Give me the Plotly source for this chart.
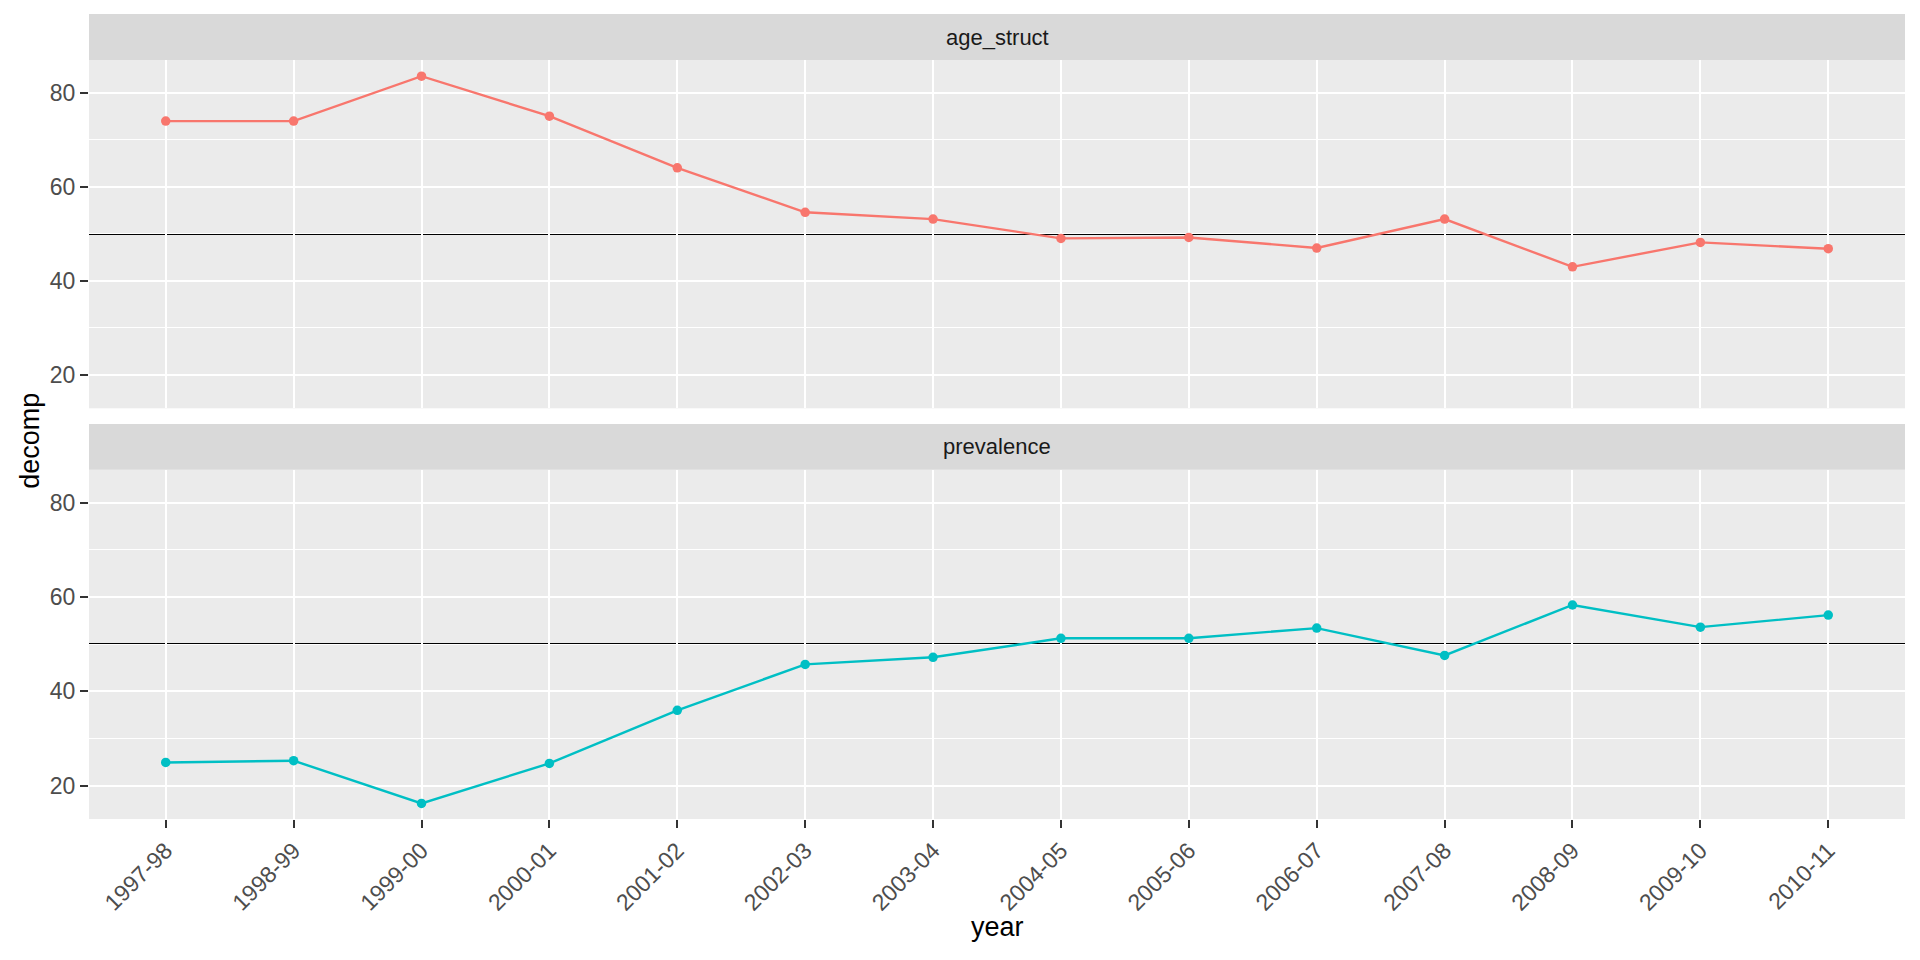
import plotly.graph_objects as go

years = ["1997-98", "1998-99", "1999-00", "2000-01", "2001-02", "2002-03", "2003-04",
         "2004-05", "2005-06", "2006-07", "2007-08", "2008-09", "2009-10", "2010-11"]
age_struct = [74.0, 74.0, 83.55, 75.05, 64.06, 54.6, 53.15, 49.05, 49.25, 47.0, 53.15, 43.0, 48.2, 46.85]
prevalence = [24.9, 25.27, 16.2, 24.7, 35.95, 45.7, 47.2, 51.24, 51.24, 53.4, 47.6, 58.3, 53.6, 56.15]
panel_names = ["age_struct", "prevalence"]
ref_value = 50
y_ticks = [20, 40, 60, 80]

RED = "#F8766D"
TEAL = "#00BFC4"
FONT = "Liberation Sans, Arial, sans-serif"

# page body has an 8px margin; figure sized so the plot lands on the target pixels
OFF = 8
W, H = 1904, 944
L, R, T, B = 81, 7, 6, 133
ph = H - T - B
pw = W - L - R


def py(pix):
    # pix is a screen pixel row
    return (H - B - (pix - OFF)) / ph


def px(pix):
    return (pix - OFF - L) / pw


fig = go.Figure()
fig.add_trace(go.Scatter(x=years, y=age_struct, mode="lines+markers", xaxis="x", yaxis="y",
                         line=dict(color=RED, width=2.4), marker=dict(color=RED, size=9.5),
                         showlegend=False))
fig.add_trace(go.Scatter(x=years, y=prevalence, mode="lines+markers", xaxis="x2", yaxis="y2",
                         line=dict(color=TEAL, width=2.4), marker=dict(color=TEAL, size=9.5),
                         showlegend=False))

top_dom = [py(408.3), py(60)]
bot_dom = [py(819), py(469.7)]
yrange = [12.9, 87.0]
xrange = [-0.6, len(years) - 1 + 0.6]

yax = dict(range=yrange, tickvals=y_ticks, showgrid=True, gridcolor="white", gridwidth=2,
           zeroline=False, ticks="outside", ticklen=8, tickwidth=2, tickcolor="#333333",
           tickfont=dict(family=FONT, size=23, color="#4D4D4D"), showline=False, automargin=False,
           minor=dict(dtick=10, tick0=10, showgrid=True, gridcolor="white", gridwidth=1, ticks=""))
xax = dict(type="category", range=xrange, showgrid=True, gridcolor="white", gridwidth=2,
           zeroline=False, showline=False, categoryorder="array", categoryarray=years,
           automargin=False)

fig.update_layout(
    width=W, height=H,
    margin=dict(l=L, r=R, t=T, b=B),
    paper_bgcolor="white", plot_bgcolor="#EBEBEB",
    font=dict(family=FONT),
    xaxis=dict(**xax, anchor="y", domain=[0, 1], showticklabels=False, ticks=""),
    xaxis2=dict(**xax, anchor="y2", domain=[0, 1], matches="x", ticks="outside", ticklen=8,
                tickwidth=2, tickcolor="#333333", tickangle=-45,
                tickfont=dict(family=FONT, size=23, color="#4D4D4D")),
    yaxis=dict(**yax, domain=top_dom, anchor="x"),
    yaxis2=dict(**yax, domain=bot_dom, anchor="x2"),
)

shapes = []
# facet strips
shapes.append(dict(type="rect", xref="paper", yref="paper", x0=0, x1=1, y0=py(60), y1=py(14),
                   fillcolor="#D9D9D9", line=dict(width=0), layer="below"))
shapes.append(dict(type="rect", xref="paper", yref="paper", x0=0, x1=1, y0=py(469.7), y1=py(424),
                   fillcolor="#D9D9D9", line=dict(width=0), layer="below"))
# reference lines
for yr in ["y", "y2"]:
    shapes.append(dict(type="line", xref="paper", yref=yr, x0=0, x1=1, y0=ref_value, y1=ref_value,
                       line=dict(color="black", width=2), layer="between"))
fig.update_layout(shapes=shapes)

ann = []
ann.append(dict(text=panel_names[0], xref="paper", yref="paper", x=0.5, y=py(37), showarrow=False,
                font=dict(family=FONT, size=22, color="#1A1A1A"), xanchor="center", yanchor="middle"))
ann.append(dict(text=panel_names[1], xref="paper", yref="paper", x=0.5, y=py(446.9), showarrow=False,
                font=dict(family=FONT, size=22, color="#1A1A1A"), xanchor="center", yanchor="middle"))
ann.append(dict(text="decomp", xref="paper", yref="paper", x=px(29.7), y=py(441),
                showarrow=False, textangle=-90, font=dict(family=FONT, size=27, color="black"),
                xanchor="center", yanchor="middle"))
ann.append(dict(text="year", xref="paper", yref="paper", x=0.5, y=py(927), showarrow=False,
                font=dict(family=FONT, size=27, color="black"), xanchor="center", yanchor="middle"))
fig.update_layout(annotations=ann)

fig.write_html("out.html")
